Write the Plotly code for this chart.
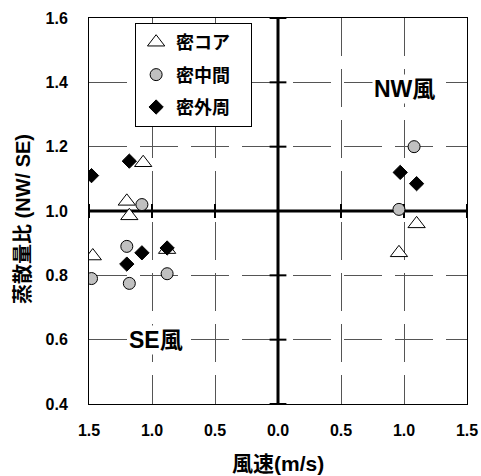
import plotly.graph_objects as go

# Wind speed (SE wind plotted on the negative side) and NW/SE transpiration ratio
core_x = [-1.47, -1.20, -1.18, -1.07, -0.88, 0.96, 1.10]
core_y = [0.86, 1.03, 0.985, 1.15, 0.88, 0.87, 0.96]

mid_x = [-1.48, -1.20, -1.18, -1.08, -0.88, 0.96, 1.08]
mid_y = [0.79, 0.89, 0.775, 1.02, 0.805, 1.005, 1.20]

outer_x = [-1.48, -1.20, -1.18, -1.08, -0.88, 0.97, 1.10]
outer_y = [1.11, 0.835, 1.155, 0.87, 0.885, 1.12, 1.085]

series_names = ["密コア", "密中間", "密外周"]

x_tickvals = [-1.5, -1.0, -0.5, 0.0, 0.5, 1.0, 1.5]
x_ticktext = ["1.5", "1.0", "0.5", "0.0", "0.5", "1.0", "1.5"]
y_tickvals = [0.4, 0.6, 0.8, 1.0, 1.2, 1.4, 1.6]
x_range = [-1.5, 1.5]
y_range = [0.4, 1.6]
ratio_ref = 1.0

FONT = "Liberation Sans, Arial, Noto Sans CJK JP"
PAD = "\u00a0" * 3  # extra room on the right of legend labels

fig = go.Figure()

# Reference cross: ratio = 1 and wind speed = 0
fig.add_trace(go.Scatter(x=x_range, y=[ratio_ref, ratio_ref], mode="lines",
                         line=dict(color="black", width=3),
                         showlegend=False, hoverinfo="skip"))
fig.add_trace(go.Scatter(x=[0, 0], y=y_range, mode="lines",
                         line=dict(color="black", width=3),
                         showlegend=False, hoverinfo="skip"))
# Small tick marks on the reference cross
fig.add_trace(go.Scatter(x=x_tickvals, y=[ratio_ref] * len(x_tickvals), mode="markers",
                         marker=dict(symbol="line-ns", size=10,
                                     line=dict(color="black", width=2)),
                         showlegend=False, hoverinfo="skip", cliponaxis=False))
fig.add_trace(go.Scatter(x=[0] * len(y_tickvals), y=y_tickvals, mode="markers",
                         marker=dict(symbol="line-ew", size=12,
                                     line=dict(color="black", width=2)),
                         showlegend=False, hoverinfo="skip", cliponaxis=False))

fig.add_trace(go.Scatter(x=core_x, y=core_y, mode="markers", name=series_names[0] + PAD,
                         legendgroup="a",
                         marker=dict(symbol="triangle-up", size=15, color="white",
                                     line=dict(color="black", width=1))))
fig.add_trace(go.Scatter(x=mid_x, y=mid_y, mode="markers", name=series_names[1] + PAD,
                         legendgroup="b",
                         marker=dict(symbol="circle", size=12, color="#c0c0c0",
                                     line=dict(color="black", width=1))))
fig.add_trace(go.Scatter(x=outer_x, y=outer_y, mode="markers", name=series_names[2] + PAD,
                         legendgroup="c",
                         marker=dict(symbol="diamond", size=11, color="black",
                                     line=dict(color="black", width=1))))

grid = dict(showgrid=True, gridcolor="#555555", gridwidth=1, griddash="38px,13px",
            showline=True, linecolor="black", linewidth=1, mirror=True,
            zeroline=False, ticks="", automargin=False,
            tickfont=dict(family=FONT, size=16, color="black", weight="bold"))

fig.update_xaxes(range=x_range, tickvals=x_tickvals, ticktext=x_ticktext,
                 ticklabelstandoff=12, **grid)
fig.update_yaxes(range=y_range, tickvals=y_tickvals, tickformat=".1f",
                 ticklabelstandoff=17, **grid)

fig.add_annotation(text="NW風", x=1.0, y=1.38, xref="x", yref="y", showarrow=False,
                   bgcolor="white", font=dict(family=FONT, size=23, color="black", weight="bold"))
fig.add_annotation(text="SE風", x=-0.97, y=0.6, xref="x", yref="y", showarrow=False,
                   bgcolor="white", font=dict(family=FONT, size=23, color="black", weight="bold"))

# Axis titles
fig.add_annotation(text="風速(m/s)", x=0.5, y=-0.153, xref="paper", yref="paper",
                   showarrow=False, xanchor="center", yanchor="middle",
                   font=dict(family=FONT, size=21, color="black", weight="bold"))
fig.add_annotation(text="蒸散量比 (NW/ SE)", x=-0.175, y=0.479, xref="paper", yref="paper",
                   showarrow=False, textangle=-90, xanchor="center", yanchor="middle",
                   font=dict(family=FONT, size=20, color="black", weight="bold"))

fig.update_layout(
    width=481, height=476,
    margin=dict(l=89, r=14, t=18, b=72),
    plot_bgcolor="white", paper_bgcolor="white",
    legend=dict(x=0.122, y=0.987, xanchor="left", yanchor="top",
                bgcolor="white", bordercolor="black", borderwidth=1,
                tracegroupgap=6,
                font=dict(family=FONT, size=18, color="black", weight="bold")),
)

fig.write_html("out.html")
